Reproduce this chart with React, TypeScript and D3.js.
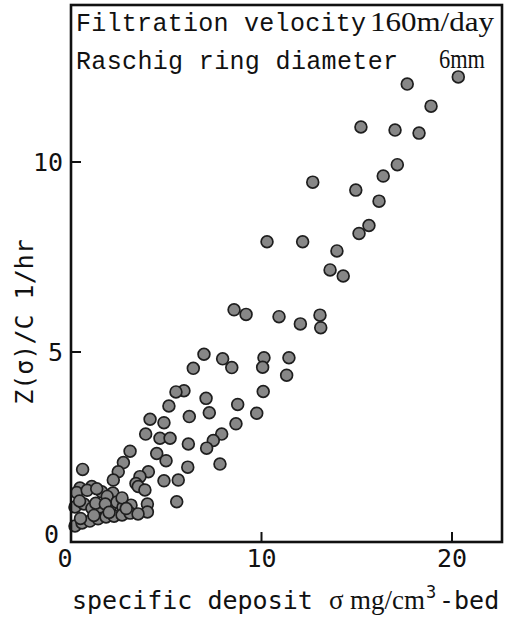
import React, { useEffect } from "react";
import * as d3 from "d3";

// Specific deposit sigma (mg/cm3-bed) for each measurement
const sigmaValues: number[] = [
  20.33, 17.65, 18.9, 15.22, 17.01, 18.27, 17.13, 16.39, 12.69, 14.95,
  16.17, 15.64, 15.12, 12.16, 10.29, 13.96, 13.6, 14.29,
  8.56, 9.19, 10.92, 12.04, 13.07, 13.11, 6.98, 7.96, 8.44, 6.42,
  10.13, 10.06, 11.44, 11.32, 5.93, 5.51, 7.09, 7.26, 6.21, 8.75,
  10.09, 9.75, 8.66, 7.91, 7.47, 7.12, 6.16,
  5.14, 4.15, 4.88, 7.82, 3.92, 4.67, 5.2, 3.1, 4.5, 4.99, 6.13,
  2.75, 2.48, 2.22, 4.06, 3.62, 3.41, 3.53, 3.88, 4.88, 5.63,
  4.01, 4.01, 5.55, 0.61,
  0.47, 1.09, 1.61, 2.2, 0.3, 0.85, 1.35, 1.9,
  0.21, 0.68, 1.1, 1.52, 2.05, 2.41, 2.73, 3.15, 2.68, 0.45, 1.3, 1.8,
  0.21, 0.58, 0.99, 1.42, 1.84, 2.26, 2.68, 3.1, 3.52, 0.5, 1.2, 2.0, 2.9,
];

// Z(sigma)/C (1/hr) for the same measurements
const zOverC: number[] = [
  12.24, 12.05, 11.47, 10.92, 10.84, 10.76, 9.93, 9.63, 9.47, 9.26,
  8.97, 8.33, 8.12, 7.9, 7.9, 7.66, 7.16, 7.0,
  6.11, 5.99, 5.93, 5.74, 5.97, 5.64, 4.94, 4.82, 4.59, 4.57,
  4.85, 4.6, 4.85, 4.39, 3.98, 3.95, 3.78, 3.4, 3.3, 3.62,
  3.96, 3.39, 3.11, 2.84, 2.67, 2.47, 2.58,
  3.58, 3.23, 3.14, 2.05, 2.84, 2.73, 2.73, 2.39, 2.33, 2.14, 1.97,
  2.09, 1.85, 1.63, 1.85, 1.72, 1.54, 1.46, 1.37, 1.61, 1.63,
  1.0, 0.79, 1.06, 1.91,
  1.42, 1.46, 1.32, 1.29, 1.3, 1.36, 1.4, 1.2,
  0.92, 1.0, 0.89, 0.92, 0.89, 1.05, 0.92, 0.97, 1.16, 1.08, 1.02, 1.0,
  0.42, 0.5, 0.55, 0.61, 0.66, 0.68, 0.71, 0.76, 0.74, 0.62, 0.7, 0.78, 0.88,
];

const xTickValues: number[] = [0, 10, 20];
const yTickValues: number[] = [0, 5, 10];

const W = 529;
const H = 619;
const left = 71;
const right = 502;
const top = 5;
const bottom = 542;

const x = d3.scaleLinear().domain([0, 20]).range([left, 452]);
const y = d3.scaleLinear().domain([0, 10]).range([bottom, 162]);

const monoAxis = "'DejaVu Sans Mono', monospace";
const monoBox = "'Liberation Mono', 'Courier New', monospace";
const serif = "'Liberation Serif', 'Times New Roman', serif";

export default function App() {
  useEffect(() => {
    document.body.style.margin = "0";
  }, []);

  const points = sigmaValues.map((s, i) => ({ s, z: zOverC[i] }));

  return (
    <svg
      width={W}
      height={H}
      viewBox={`0 0 ${W} ${H}`}
      style={{ position: "absolute", left: 0, top: 0, background: "#fff" }}
    >
      <rect x={0} y={0} width={W} height={H} fill="#fff" />

      {/* data points */}
      <g>
        {points.map((p, i) => (
          <circle
            key={i}
            cx={x(p.s)}
            cy={y(p.z)}
            r={5.9}
            fill="#878787"
            stroke="#1e1e1e"
            strokeWidth={1.7}
          />
        ))}
      </g>

      {/* frame */}
      <rect
        x={left}
        y={top}
        width={right - left}
        height={bottom - top}
        fill="none"
        stroke="#111"
        strokeWidth={2.6}
      />

      {/* inward ticks */}
      {xTickValues
        .filter((v) => v > 0)
        .map((v) => (
          <line
            key={`xt${v}`}
            x1={x(v)}
            x2={x(v)}
            y1={bottom}
            y2={bottom - 10}
            stroke="#111"
            strokeWidth={2}
          />
        ))}
      {yTickValues
        .filter((v) => v > 0)
        .map((v) => (
          <line
            key={`yt${v}`}
            x1={left}
            x2={left + 10}
            y1={y(v)}
            y2={y(v)}
            stroke="#111"
            strokeWidth={2}
          />
        ))}

      {/* tick labels */}
      {xTickValues.map((v) => (
        <text
          key={`xl${v}`}
          x={v === 0 ? x(v) - 6 : x(v)}
          y={bottom + 25}
          textAnchor="middle"
          fontFamily={monoAxis}
          fontSize={25}
          fill="#111"
        >
          {v}
        </text>
      ))}
      {yTickValues.map((v) => (
        <text
          key={`yl${v}`}
          x={v === 0 ? left - 12 : left - 8}
          y={v === 0 ? y(v) - 8 : y(v)}
          dy="0.36em"
          textAnchor="end"
          fontFamily={monoAxis}
          fontSize={25}
          fill="#111"
        >
          {v}
        </text>
      ))}

      {/* axis titles */}
      <text
        transform={`translate(33, 322) rotate(-90)`}
        textAnchor="middle"
        fontFamily={monoAxis}
        fontSize={25}
        fill="#111"
      >
        Z(σ)/C 1/hr
      </text>
      <text y={609} fontSize={25} fill="#111">
        <tspan x={72} fontFamily={monoAxis}>
          specific deposit
        </tspan>
        <tspan x={329} fontFamily={serif} fontSize={27}>
          σ
        </tspan>
        <tspan x={350} fontFamily={serif} fontSize={27}>
          mg/cm
        </tspan>
        <tspan x={426} dy={-11} fontFamily={monoAxis} fontSize={17}>
          3
        </tspan>
        <tspan x={439} dy={11} fontFamily={monoAxis}>
          -bed
        </tspan>
      </text>

      {/* conditions */}
      <text
        x={76}
        y={31}
        fontFamily={monoBox}
        fontSize={25}
        fill="#111"
        textLength={290}
        lengthAdjust="spacing"
      >
        Filtration velocity
      </text>
      <text
        x={370}
        y={31}
        fontFamily={serif}
        fontSize={28}
        fill="#111"
        textLength={124}
        lengthAdjust="spacingAndGlyphs"
      >
        160m/day
      </text>
      <text
        x={76}
        y={69}
        fontFamily={monoBox}
        fontSize={25}
        fill="#111"
        textLength={322}
        lengthAdjust="spacing"
      >
        Raschig ring diameter
      </text>
      <text
        x={439}
        y={68}
        fontFamily={serif}
        fontSize={28}
        fill="#111"
        textLength={46}
        lengthAdjust="spacingAndGlyphs"
      >
        6mm
      </text>
    </svg>
  );
}
